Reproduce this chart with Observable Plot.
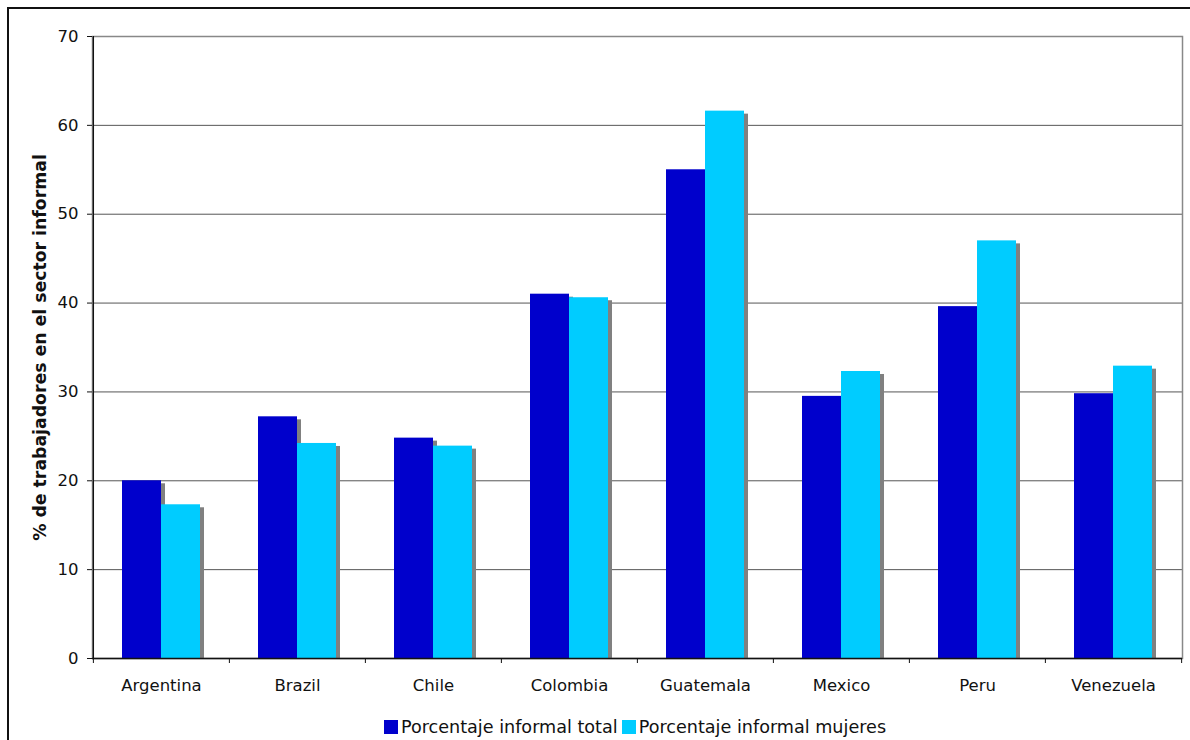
<!DOCTYPE html>
<html>
<head>
<meta charset="utf-8">
<script src="https://cdn.jsdelivr.net/npm/d3@7"></script>
<script src="https://cdn.jsdelivr.net/npm/@observablehq/plot@0.6"></script>
<style>
  html, body { margin: 0; padding: 0; background: #fff; overflow: hidden; }
  #wrap { position: relative; width: 1190px; height: 740px; overflow: hidden; font-family: "DejaVu Sans", Verdana, sans-serif; }
  #outer { position: absolute; left: 7px; top: 7px; width: 1300px; height: 800px; border: 2px solid #111; box-sizing: border-box; pointer-events: none; }
  #chart { position: absolute; left: 0; top: 0; }
  #legend { position: absolute; left: 0; top: 717px; width: 1270px; text-align: center; font-size: 17.6px; color: #111; white-space: nowrap; }
  #legend span.item { display: inline-flex; align-items: center; margin: 0 2px; }
  #legend span.sw { display: inline-block; width: 14px; height: 14px; margin-right: 3px; }
</style>
</head>
<body>
<div id="wrap">
  <div id="outer"></div>
  <div id="chart"></div>
  <div id="legend"></div>
</div>
<script>
const countries = ["Argentina", "Brazil", "Chile", "Colombia", "Guatemala", "Mexico", "Peru", "Venezuela"];
const totalInformal = [20.0, 27.2, 24.8, 41.0, 55.0, 29.5, 39.6, 29.8];
const womenInformal = [17.3, 24.2, 23.9, 40.6, 61.6, 32.3, 47.0, 32.9];
const seriesNames = ["Porcentaje informal total", "Porcentaje informal mujeres"];
const seriesColors = ["#0000CC", "#00CCFF"];
const yTicks = [0, 10, 20, 30, 40, 50, 60, 70];
const yTitle = "% de trabajadores en el sector informal";

const W = 1190, H = 710;
const mL = 92, mR = 8, mT = 36, mB = 52;
const halfBand = (W - mL - mR) / countries.length / 2;

const total = countries.map((c, i) => ({country: c, value: totalInformal[i]}));
const women = countries.map((c, i) => ({country: c, value: womenInformal[i]}));

const font = "'DejaVu Sans', Verdana, sans-serif";

const plot = Plot.plot({
  width: W,
  height: H,
  marginLeft: mL,
  marginRight: mR,
  marginTop: mT,
  marginBottom: mB,
  style: {fontFamily: font, fontSize: "16px", color: "#111", background: "transparent"},
  x: {domain: countries, padding: 0, axis: null},
  y: {domain: [0, 70], axis: null},
  marks: [
    Plot.ruleY(yTicks.filter(t => t > 0 && t < 70), {stroke: "#555", strokeWidth: 1}),
    Plot.frame({stroke: "#888", strokeWidth: 1.5}),
    // shadows
    Plot.barY(total, {x: "country", y: "value", fill: "#808080", insetLeft: 29, insetRight: 68, insetTop: 3, dx: 4}),
    Plot.barY(women, {x: "country", y: "value", fill: "#808080", insetLeft: 68, insetRight: 29, insetTop: 3, dx: 4}),
    // bars
    Plot.barY(total, {x: "country", y: "value", fill: seriesColors[0], insetLeft: 29, insetRight: 68}),
    Plot.barY(women, {x: "country", y: "value", fill: seriesColors[1], insetLeft: 68, insetRight: 29}),
    // axes lines
    Plot.ruleY([0], {stroke: "#111", strokeWidth: 1.3}),
    Plot.ruleX([countries[0]], {x: d => d, dx: -halfBand, stroke: "#111", strokeWidth: 1.3}),
    // x boundary ticks
    Plot.ruleX(countries, {x: d => d, dx: -halfBand, y1: 0, y2: 0, insetBottom: -5, stroke: "#111"}),
    Plot.ruleX([countries[countries.length - 1]], {x: d => d, dx: halfBand, y1: 0, y2: 0, insetBottom: -5, stroke: "#111"}),
    // y ticks
    Plot.axisY(yTicks, {tickSize: 5, tickPadding: 9, fontSize: 16.5, stroke: "#111", fill: "#111", label: null}),
    Plot.axisX({tickSize: 0, tickPadding: 21, fontSize: 16.5, fill: "#111", label: null}),
    Plot.text([yTitle], {frameAnchor: "left", textAnchor: "middle", rotate: -90, dx: -52, fontWeight: "bold", fontSize: 17.3, fill: "#111"})
  ]
});
document.getElementById("chart").appendChild(plot);

const legend = document.getElementById("legend");
seriesNames.forEach((name, i) => {
  const item = document.createElement("span");
  item.className = "item";
  const sw = document.createElement("span");
  sw.className = "sw";
  sw.style.background = seriesColors[i];
  item.appendChild(sw);
  item.appendChild(document.createTextNode(name));
  legend.appendChild(item);
});
</script>
</body>
</html>
